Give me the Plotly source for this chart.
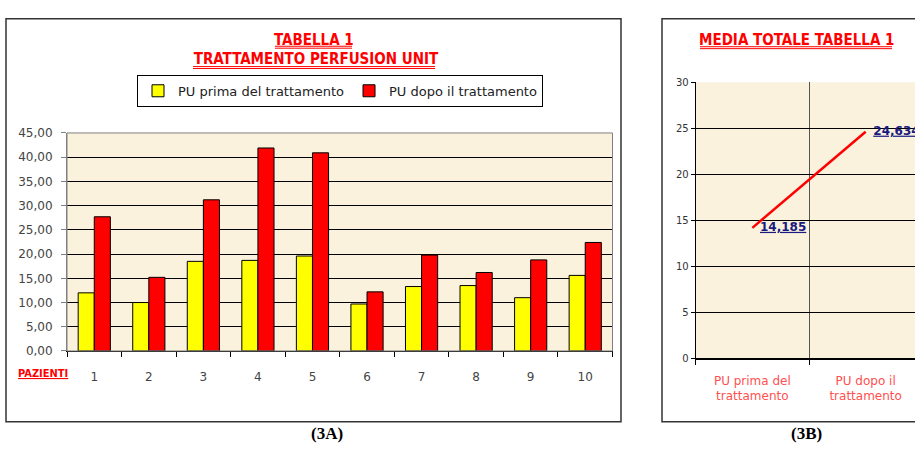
import plotly.graph_objects as go

# Perfusion Unit per patient, before and after treatment
pazienti = ["1", "2", "3", "4", "5", "6", "7", "8", "9", "10"]
pu_prima = [12.0, 10.0, 18.5, 18.7, 19.6, 9.7, 13.3, 13.5, 11.0, 15.6]
pu_dopo = [27.7, 15.2, 31.2, 41.9, 40.9, 12.2, 19.8, 16.2, 18.8, 22.4]

# Overall means
medie_cat = ["PU prima del<br>trattamento", "PU dopo il<br>trattamento"]
medie = [14.185, 24.634]

W, H = 915, 451


def px(x):
    return x / W


def py(y):
    return (H - y) / H


BG = "#FBF2DE"
TITLE_FONT = "DejaVu Sans Condensed, DejaVu Sans, sans-serif"
TICK_FONT = "DejaVu Sans, Verdana, sans-serif"

fig = go.Figure()

fig.add_trace(go.Bar(
    x=pazienti, y=pu_prima, name="PU prima del trattamento",
    marker=dict(color="#FFFF00", line=dict(color="#000000", width=1)),
    xaxis="x", yaxis="y",
))
fig.add_trace(go.Bar(
    x=pazienti, y=pu_dopo, name="PU dopo il trattamento",
    marker=dict(color="#FF0000", line=dict(color="#000000", width=1)),
    xaxis="x", yaxis="y",
))

fig.add_trace(go.Scatter(
    x=medie_cat, y=medie, mode="lines+text",
    line=dict(color="#FF0000", width=2.5),
    texttemplate="  <b><u>%{y:.3f}</u></b>",
    textposition="middle right",
    textfont=dict(family=TICK_FONT, size=12, color="#1A1A80"),
    cliponaxis=False, showlegend=False,
    xaxis="x2", yaxis="y2",
))

fig.update_layout(
    width=W, height=H,
    margin=dict(l=0, r=0, t=0, b=0),
    paper_bgcolor="white",
    plot_bgcolor=BG,
    separators=",.",
    barmode="group", bargap=0.41, bargroupgap=0,
    font=dict(family=TICK_FONT, color="#333333"),
    showlegend=True,
    legend=dict(
        orientation="h", x=px(137), y=py(70), xanchor="left", yanchor="top",
        bgcolor="white", bordercolor="#000000", borderwidth=1,
        font=dict(family=TICK_FONT, size=13, color="#222222"),
        itemwidth=30, tracegroupgap=0,
    ),
    xaxis=dict(
        domain=[px(67), px(612.5)], anchor="y", type="category",
        range=[-0.5, 9.5], tickson="boundaries",
        ticks="outside", ticklen=5, tickcolor="#000000",
        showline=True, linecolor="#000000", linewidth=1,
        showgrid=False, tickfont=dict(size=12, color="#444444"),
        ticklabelstandoff=15,
    ),
    yaxis=dict(
        domain=[py(355), py(130)], anchor="x",
        range=[0, 45], dtick=5, tickformat=".2f",
        showgrid=True, gridcolor="#000000", gridwidth=1,
        ticks="outside", ticklen=5, tickcolor="#808080",
        showline=True, linecolor="#808080", linewidth=1,
        zeroline=False, tickfont=dict(size=12, color="#444444"),
        ticklabelstandoff=6,
    ),
    xaxis2=dict(
        domain=[px(695.7), 1], anchor="y2", type="category",
        range=[-0.5, -0.5 + (W - 695.7) / 113.3], tickson="boundaries",
        ticks="outside", ticklen=5, tickcolor="#000000",
        showline=True, linecolor="#000000", linewidth=2,
        showgrid=True, gridcolor="#555555", gridwidth=1,
        tickfont=dict(size=12, color="#FF5050"),
        ticklabelstandoff=10,
    ),
    yaxis2=dict(
        domain=[py(362.7), py(77.7)], anchor="x2",
        range=[0, 30], dtick=5,
        showgrid=True, gridcolor="#000000", gridwidth=1,
        ticks="outside", ticklen=4, tickcolor="#000000",
        showline=True, linecolor="#000000", linewidth=1,
        zeroline=False, tickfont=dict(size=10, color="#333333"),
    ),
)

# Chart frames and plot border
fig.add_shape(type="rect", xref="paper", yref="paper",
              x0=px(6), x1=px(621), y0=py(428), y1=py(12),
              line=dict(color="#333333", width=1.5))
fig.add_shape(type="rect", xref="paper", yref="paper",
              x0=px(662), x1=px(940), y0=py(428), y1=py(12),
              line=dict(color="#333333", width=1.5))
fig.add_shape(type="rect", xref="x domain", yref="y domain",
              x0=0, x1=1, y0=0, y1=1,
              line=dict(color="#808080", width=1))

# Titles with double underlines
RED = "#FF0000"
titles = [
    ("TABELLA 1", 313.5, 33.7, 275, 352, 40.5),
    (" TRATTAMENTO PERFUSION UNIT", 314, 54, 193, 435, 61.5),
    ("MEDIA TOTALE TABELLA 1", 796, 34, 700, 892, 41.0),
]
for text, cx, cy, ux0, ux1, uy in titles:
    fig.add_annotation(
        text=f"<b>{text}</b>", xref="paper", yref="paper",
        x=px(cx), y=py(cy), xanchor="center", yanchor="middle",
        showarrow=False,
        font=dict(family=TITLE_FONT, size=15, color=RED),
    )
    for dy in (0, 2):
        fig.add_shape(type="line", xref="paper", yref="paper",
                      x0=px(ux0), x1=px(ux1), y0=py(uy + dy), y1=py(uy + dy),
                      line=dict(color=RED, width=1))

fig.add_annotation(
    text="<b><u>PAZIENTI</u></b>",
    xref="paper", yref="paper", x=px(43), y=py(378),
    xanchor="center", yanchor="middle", showarrow=False,
    font=dict(family=TITLE_FONT, size=11, color=RED),
)
for label, cx in (("(3A)", 327), ("(3B)", 806)):
    fig.add_annotation(
        text=f"<b>{label}</b>", xref="paper", yref="paper",
        x=px(cx), y=py(440), xanchor="center", yanchor="middle",
        showarrow=False,
        font=dict(family="Liberation Serif, Times New Roman, serif", size=17, color="#000000"),
    )

# Keep the figure flush with the page edges
page_css = ("document.body.style.margin='0';"
            "document.body.style.overflow='hidden';")
fig.write_html("out.html", post_script=page_css)
